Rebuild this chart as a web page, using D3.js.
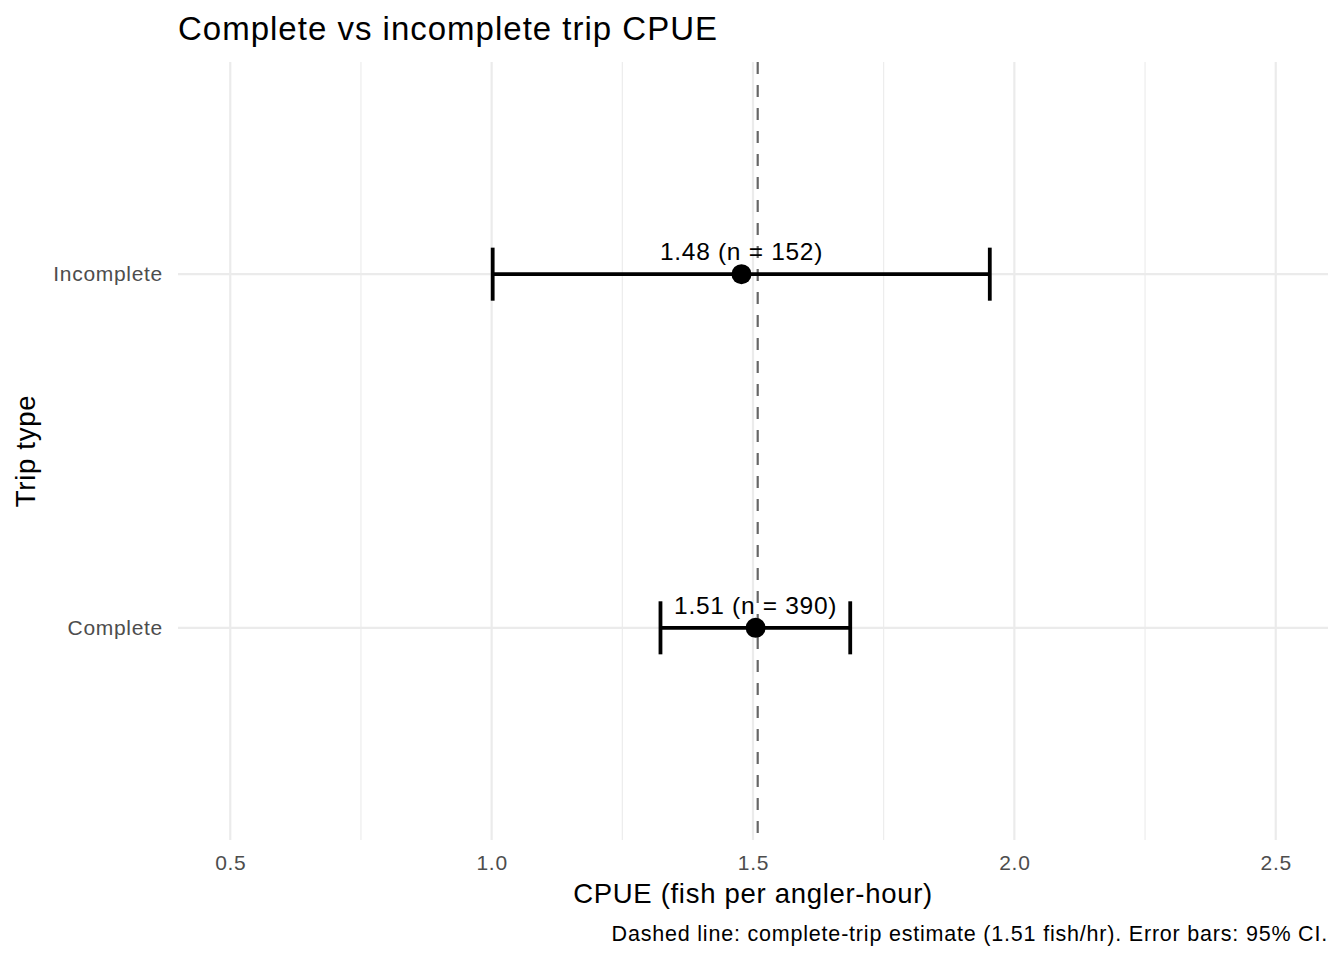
<!DOCTYPE html>
<html>
<head>
<meta charset="utf-8">
<script src="https://cdn.jsdelivr.net/npm/d3@7.9.0/dist/d3.min.js"></script>
<style>
  body { margin: 0; background: #fff; }
  svg { display: block; font-family: "Liberation Sans", Arial, sans-serif; }
</style>
</head>
<body>
<svg id="chart"></svg>
<script>
// data
const tripTypes = ["Incomplete", "Complete"];
const estimates = [1.478, 1.505];
const ciLower = [1.002, 1.323];
const ciUpper = [1.953, 1.686];
const sampleSizes = [152, 390];
const labels = ["1.48 (n = 152)", "1.51 (n = 390)"];
const refLine = 1.509;
const xTicks = [0.5, 1.0, 1.5, 2.0, 2.5];
const xMinorTicks = [0.75, 1.25, 1.75, 2.25];

const data = tripTypes.map((t, i) => ({
    type: t, est: estimates[i], lo: ciLower[i], hi: ciUpper[i], n: sampleSizes[i], label: labels[i]
}));

const W = 1344, H = 960;
const margin = { top: 62, right: 16, bottom: 120, left: 178 };
const width = W - margin.left - margin.right;
const height = H - margin.top - margin.bottom;

const svg = d3.select("#chart").attr("width", W).attr("height", H);

const g = svg.append("g")
    .attr("transform", `translate(${margin.left}, ${margin.top})`);

const x = d3.scaleLinear().domain([0.4, 2.6]).range([0, width]);
const y = d3.scalePoint().domain(tripTypes).range([0, height]).padding(0.6);

// grid
g.selectAll(".minor")
    .data(xMinorTicks)
    .enter().append("line")
    .attr("x1", d => x(d)).attr("x2", d => x(d))
    .attr("y1", 0).attr("y2", height)
    .attr("stroke", "#ebebeb").attr("stroke-width", 1.1);

g.selectAll(".major")
    .data(xTicks)
    .enter().append("line")
    .attr("x1", d => x(d)).attr("x2", d => x(d))
    .attr("y1", 0).attr("y2", height)
    .attr("stroke", "#ebebeb").attr("stroke-width", 2.2);

g.selectAll(".hgrid")
    .data(tripTypes)
    .enter().append("line")
    .attr("x1", 0).attr("x2", width)
    .attr("y1", d => y(d)).attr("y2", d => y(d))
    .attr("stroke", "#ebebeb").attr("stroke-width", 2.2);

// reference line
g.append("line")
    .attr("x1", x(refLine)).attr("x2", x(refLine))
    .attr("y1", 0).attr("y2", height)
    .attr("stroke", "#666666").attr("stroke-width", 2.2)
    .attr("stroke-dasharray", "12,11");

// error bars
const capHalf = y.step() * 0.075;
const bars = g.selectAll(".bar").data(data).enter().append("g");

bars.append("line")
    .attr("x1", d => x(d.lo)).attr("x2", d => x(d.hi))
    .attr("y1", d => y(d.type)).attr("y2", d => y(d.type))
    .attr("stroke", "#000").attr("stroke-width", 3.8);

bars.append("line")
    .attr("x1", d => x(d.lo)).attr("x2", d => x(d.lo))
    .attr("y1", d => y(d.type) - capHalf).attr("y2", d => y(d.type) + capHalf)
    .attr("stroke", "#000").attr("stroke-width", 3.8);

bars.append("line")
    .attr("x1", d => x(d.hi)).attr("x2", d => x(d.hi))
    .attr("y1", d => y(d.type) - capHalf).attr("y2", d => y(d.type) + capHalf)
    .attr("stroke", "#000").attr("stroke-width", 3.8);

bars.append("circle")
    .attr("cx", d => x(d.est)).attr("cy", d => y(d.type))
    .attr("r", 10).attr("fill", "#000");

bars.append("text")
    .attr("x", d => x(d.est)).attr("y", d => y(d.type) - 14)
    .attr("text-anchor", "middle")
    .style("font-size", "24.5px").style("letter-spacing", "0.7px").style("fill", "#000")
    .text(d => d.label);

// axes (ggplot minimal: no lines, only labels)
const xAxis = g.append("g")
    .attr("transform", `translate(0, ${height})`)
    .call(d3.axisBottom(x).tickValues(xTicks).tickFormat(d3.format(".1f")).tickSize(0).tickPadding(15));
xAxis.select(".domain").remove();
xAxis.selectAll("text").style("font-size", "21px").style("letter-spacing", "0.7px").style("fill", "#4d4d4d")
    .style("font-family", "Liberation Sans, Arial, sans-serif");

const yAxis = g.append("g")
    .call(d3.axisLeft(y).tickSize(0).tickPadding(15));
yAxis.select(".domain").remove();
yAxis.selectAll("text").style("font-size", "21px").style("letter-spacing", "0.7px").style("fill", "#4d4d4d")
    .style("font-family", "Liberation Sans, Arial, sans-serif");

// titles
svg.append("text")
    .attr("x", margin.left).attr("y", 40)
    .style("font-size", "33px").style("letter-spacing", "1px").style("fill", "#000")
    .text("Complete vs incomplete trip CPUE");

svg.append("text")
    .attr("x", margin.left + width / 2).attr("y", 903)
    .attr("text-anchor", "middle")
    .style("font-size", "27.5px").style("letter-spacing", "0.7px").style("fill", "#000")
    .text("CPUE (fish per angler-hour)");

svg.append("text")
    .attr("transform", `translate(35, ${margin.top + height / 2}) rotate(-90)`)
    .attr("text-anchor", "middle")
    .style("font-size", "27.5px").style("letter-spacing", "0.7px").style("fill", "#000")
    .text("Trip type");

svg.append("text")
    .attr("x", margin.left + width).attr("y", 941)
    .attr("text-anchor", "end")
    .style("font-size", "21.5px").style("letter-spacing", "0.8px").style("fill", "#000")
    .text("Dashed line: complete-trip estimate (1.51 fish/hr). Error bars: 95% CI.");
</script>
</body>
</html>
